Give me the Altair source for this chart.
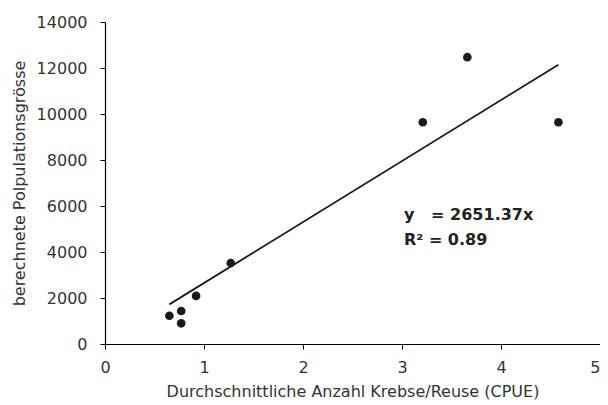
import altair as alt
import pandas as pd

cpue = [0.65, 0.77, 0.77, 0.92, 1.27, 3.21, 3.66, 4.58]
population = [1230, 1435, 900, 2090, 3520, 9640, 12470, 9640]

slope = 2651.37
line_x = [0.65, 4.58]
line_y = [slope * v for v in line_x]

eq_lines = ["y\u00a0\u00a0\u00a0= 2651.37x", "R² = 0.89"]

pts = pd.DataFrame({"x": cpue, "y": population})
ln = pd.DataFrame({"x": line_x, "y": line_y})
txt = pd.DataFrame({"x": [3.02, 3.02], "y": [5600, 4520], "t": eq_lines})

FONT = "DejaVu Sans"
xs = alt.Scale(domain=[0, 5], nice=False)
ys = alt.Scale(domain=[0, 14000], nice=False)

xax = alt.Axis(values=[0, 1, 2, 3, 4, 5], format="d", title="Durchschnittliche Anzahl Krebse/Reuse (CPUE)",
               grid=False, tickSize=5, labelPadding=10, titlePadding=8, labelFlush=False,
               labelAlign={"expr": "datum.value == 5 ? 'right' : 'center'"})
yax = alt.Axis(values=list(range(0, 14001, 2000)), format="d", title="berechnete Polpulationsgrösse",
               grid=False, tickSize=5, labelPadding=13, titlePadding=9, labelFlush=False)

points = alt.Chart(pts).mark_circle(size=75, color="#1a1a1a", opacity=1).encode(
    x=alt.X("x:Q", scale=xs, axis=xax),
    y=alt.Y("y:Q", scale=ys, axis=yax),
)
line = alt.Chart(ln).mark_line(color="#1a1a1a", strokeWidth=1.8).encode(
    x=alt.X("x:Q", scale=xs),
    y=alt.Y("y:Q", scale=ys),
)
text = alt.Chart(txt).mark_text(align="left", baseline="middle", fontSize=16, fontWeight="bold",
                                font=FONT, color="#222222").encode(
    x=alt.X("x:Q", scale=xs),
    y=alt.Y("y:Q", scale=ys),
    text="t:N",
)

chart = (line + points + text).properties(
    width=495, height=322,
    padding={"left": 97, "top": 14, "right": 0, "bottom": 60},
    autosize=alt.AutoSizeParams(type="none"),
).configure_view(stroke=None).configure_axis(
    domainColor="#000000", tickColor="#000000", domainWidth=1.2,
    labelFont=FONT, titleFont=FONT, labelFontSize=16, titleFontSize=16,
    labelColor="#333333", titleColor="#333333", titleFontWeight="normal",
)

chart.save("out.html", embed_options={"renderer": "svg", "actions": False})
